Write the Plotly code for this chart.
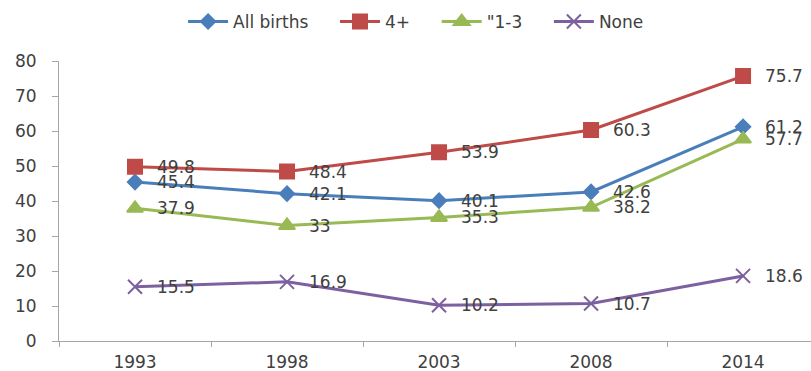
import plotly.graph_objects as go

years = ["1993", "1998", "2003", "2008", "2014"]
all_births = [45.4, 42.1, 40.1, 42.6, 61.2]
four_plus = [49.8, 48.4, 53.9, 60.3, 75.7]
one_to_three = [37.9, 33, 35.3, 38.2, 57.7]
none = [15.5, 16.9, 10.2, 10.7, 18.6]

series = [
    ("All births", all_births, "#4A7EBB", "diamond", 11),
    ("4+", four_plus, "#BE4B48", "square", 14),
    ('"1-3', one_to_three, "#98B954", "triangle-up", 14),
    ("None", none, "#7D60A0", "x-thin-open", 14),
]

FONT = "DejaVu Sans"
TEXT = "#404040"
GAP = "\u00a0" * 4  # extra room after each legend entry

fig = go.Figure()
annotations = []
for name, vals, color, sym, size in series:
    fig.add_trace(go.Scatter(
        x=years, y=vals, name=name + GAP,
        mode="lines+markers",
        line=dict(color=color, width=3),
        marker=dict(symbol=sym, size=size, color=color,
                    line=dict(color=color, width=2)),
        cliponaxis=False,
    ))
    # value labels to the right of each point (x given as category index)
    for i, v in enumerate(vals):
        annotations.append(dict(
            x=i, y=v, xref="x", yref="y", text=f"{v:g}",
            showarrow=False, xanchor="left", yanchor="middle", xshift=20,
            font=dict(family=FONT, size=17, color=TEXT),
        ))

fig.update_layout(
    width=811, height=371,
    margin=dict(l=59, r=0, t=61, b=30),
    paper_bgcolor="white", plot_bgcolor="white",
    font=dict(family=FONT, size=17, color=TEXT),
    showlegend=True,
    legend=dict(orientation="h", x=0.165, xanchor="left",
                yref="container", y=1 - 22 / 371, yanchor="middle",
                font=dict(family=FONT, size=17, color=TEXT),
                itemwidth=40, tracegroupgap=0),
    annotations=annotations,
    xaxis=dict(
        type="category", range=[-0.5, 4.447], automargin=False,
        showline=True, linecolor="#A6A6A6", linewidth=1,
        showgrid=False, zeroline=False,
        ticks="outside", tickson="boundaries", ticklen=5, tickcolor="#A6A6A6",
        ticklabelstandoff=6,
        tickfont=dict(family=FONT, size=17, color=TEXT),
    ),
    yaxis=dict(
        range=[0, 80], dtick=10, automargin=False,
        showline=True, linecolor="#A6A6A6", linewidth=1,
        showgrid=False, zeroline=False,
        ticks="outside", ticklen=6, tickcolor="#A6A6A6",
        ticklabelstandoff=12,
        tickfont=dict(family=FONT, size=17, color=TEXT),
    ),
)

fig.write_html("out.html")
